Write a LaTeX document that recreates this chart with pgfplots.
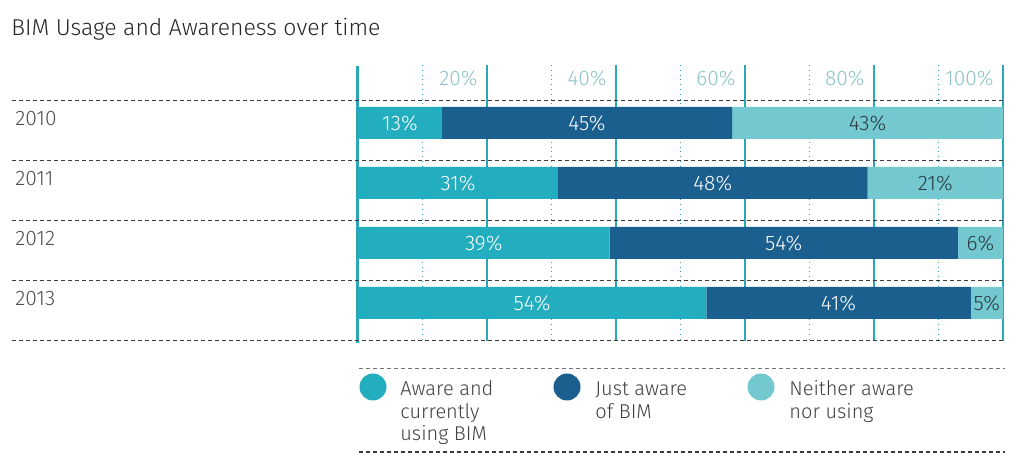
\documentclass[border=0pt]{standalone}
\usepackage{pgfplots}
\pgfplotsset{compat=1.18}
\usepackage{fontspec}
\setmainfont{Fira Sans Light}
\definecolor{cA}{HTML}{23AEBF}
\definecolor{cB}{HTML}{1B5F8F}
\definecolor{cC}{HTML}{74C9D1}
\definecolor{gridc}{HTML}{2BA7B6}
\definecolor{tickc}{HTML}{8DC3C9}
\definecolor{yearc}{HTML}{505050}
\definecolor{darklab}{HTML}{2A3A40}
\definecolor{dashc}{HTML}{3A3A3A}
\begin{document}
\begin{tikzpicture}[x=0.5pt,y=0.5pt]
\path[use as bounding box] (0,0) rectangle (1024,469);
\node[anchor=base west, inner sep=0pt, text=black!85, font=\fontsize{11.5}{13}\selectfont] at (11,{469-36}) {BIM Usage and Awareness over time};
\begin{axis}[
  at={(179pt,64pt)}, anchor=south west,
  scale only axis, width=322.5pt, height=138pt,
  xmin=0, xmax=100, ymin=65, ymax=341, y dir=reverse,
  xbar stacked, bar width=32,
  axis line style={draw=none},
  major tick length=0pt, minor tick length=0pt,
  xtick={20,40,60,80,100}, minor xtick={10,30,50,70,90},
  xmajorgrids, xminorgrids,
  major grid style={gridc, line width=0.75pt},
  minor grid style={gridc, dotted, line width=0.5pt},
  xticklabel pos=upper,
  /pgf/number format/assume math mode=true,
  xticklabel={\pgfmathprintnumber{\tick}\%},
  xticklabel style={anchor=north east, inner sep=0pt, xshift=-4.5pt, yshift=-2.5pt, text=tickc, font=\fontsize{10.5}{12}\selectfont},
  ytick={123,183,243,303}, yticklabels={2010,2011,2012,2013},
  yticklabel style={anchor=west, inner sep=0pt, xshift=-171.5pt, yshift=2pt, text=yearc, font=\fontsize{10.5}{12}\selectfont},
  point meta=explicit symbolic,
  nodes near coords,
  every node near coord/.append style={font=\fontsize{10.5}{12}\selectfont, inner sep=0pt},
  clip=false,
]
\addplot[fill=cA, draw=none, every node near coord/.append style={text=white}] coordinates {(13,123)[13\%] (31,183)[31\%] (39,243)[39\%] (54,303)[54\%]};
\addplot[fill=cB, draw=none, every node near coord/.append style={text=white}] coordinates {(45,123)[45\%] (48,183)[48\%] (54,243)[54\%] (41,303)[41\%]};
\addplot[fill=cC, draw=none, every node near coord/.append style={text=darklab}] coordinates {(42,123)[43\%] (21,183)[21\%] (7,243)[6\%] (5,303)[5\%]};
\draw[gridc, line width=1.5pt] (axis cs:0,66) -- (axis cs:0,343);
\end{axis}
\foreach \yy in {101,161,221,281,341} {
  \draw[dashc, line width=0.5pt, dash pattern=on 2pt off 1.5pt] (12,{469-\yy}) -- (1003,{469-\yy});
}
% legend
\draw[black!55, line width=0.4pt, dash pattern=on 2pt off 1.5pt] (359,{469-368}) -- (1005,{469-368});
\draw[dashc, line width=0.6pt, dash pattern=on 2pt off 1.5pt] (359,{469-452}) -- (1005,{469-452});
\fill[cA] (373,{469-387}) circle (13.5);
\fill[cB] (567,{469-387}) circle (13.5);
\fill[cC] (761,{469-387}) circle (13.5);
\begin{scope}[every node/.style={anchor=base west, inner sep=0pt, text=black!75, font=\fontsize{10}{12}\selectfont}]
\node at (400,{469-396}) {Aware and};
\node at (400,{469-418.5}) {currently};
\node at (400,{469-441}) {using BIM};
\node at (595,{469-396}) {Just aware};
\node at (595,{469-418.5}) {of BIM};
\node at (789,{469-396}) {Neither aware};
\node at (789,{469-418.5}) {nor using};
\end{scope}
\end{tikzpicture}
\end{document}
